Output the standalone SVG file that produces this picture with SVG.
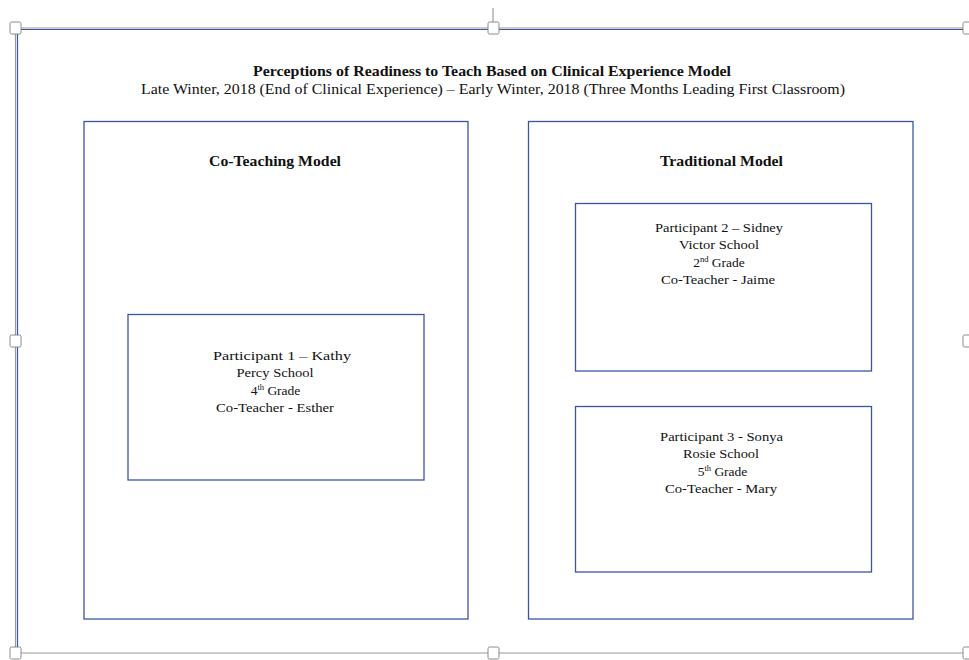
<svg xmlns="http://www.w3.org/2000/svg" width="969" height="660" viewBox="0 0 969 660">
<style>
text{font-family:"Liberation Serif","Times New Roman",serif;fill:#111;text-anchor:middle}
.t{font-size:15px;font-weight:bold}
.s{font-size:15px}
.h{font-size:15px;font-weight:bold}
.p{font-size:13.5px}
.box{fill:none;stroke:#3b55a0;stroke-width:1.3}
.sel{fill:none;stroke:#9a9a9a;stroke-width:1.2}
.hd{fill:#fff;stroke:#8a8a8a;stroke-width:1}
.sup{font-size:8.5px}
</style>
<rect width="969" height="660" fill="#fff"/>
<g id="frame">
<line class="sel" x1="493" y1="8" x2="493" y2="22"/>
<line class="sel" x1="15" y1="28" x2="969" y2="28"/>
<line x1="17" y1="29.5" x2="969" y2="29.5" stroke="#3b55a0" stroke-width="1.2"/>
<line class="sel" x1="15.5" y1="28" x2="15.5" y2="653"/>
<line x1="17.5" y1="29" x2="17.5" y2="650" stroke="#3b55a0" stroke-width="1.2"/>
<line class="sel" x1="15" y1="653" x2="969" y2="653"/>
<rect class="hd" x="10" y="22" width="11" height="12" rx="1.5"/>
<rect class="hd" x="488" y="22" width="11" height="12" rx="1.5"/>
<rect class="hd" x="963" y="22" width="11" height="12" rx="1.5"/>
<rect class="hd" x="10" y="335" width="11" height="12" rx="1.5"/>
<rect class="hd" x="963" y="335" width="11" height="12" rx="1.5"/>
<rect class="hd" x="10" y="647" width="11" height="12" rx="1.5"/>
<rect class="hd" x="488" y="647" width="11" height="12" rx="1.5"/>
<rect class="hd" x="963" y="647" width="11" height="12" rx="1.5"/>
</g>
<g id="title">
<text class="t" x="492" y="76" textLength="478" lengthAdjust="spacingAndGlyphs">Perceptions of Readiness to Teach Based on Clinical Experience Model</text>
<text class="s" x="493" y="94" textLength="704" lengthAdjust="spacingAndGlyphs">Late Winter, 2018 (End of Clinical Experience) – Early Winter, 2018 (Three Months Leading First Classroom)</text>
</g>
<g id="co-teaching-model">
<rect class="box" x="84" y="121.5" width="384" height="497.5"/>
<text class="h" x="275" y="166" textLength="132" lengthAdjust="spacingAndGlyphs">Co-Teaching Model</text>
</g>
<g id="traditional-model">
<rect class="box" x="528.5" y="121.5" width="384.5" height="497.5"/>
<text class="h" x="721.5" y="166" textLength="123" lengthAdjust="spacingAndGlyphs">Traditional Model</text>
</g>
<g id="participant-1">
<rect class="box" x="128" y="314.5" width="296" height="165.5"/>
<text class="p" x="282" y="360" textLength="138" lengthAdjust="spacingAndGlyphs">Participant 1 – Kathy</text>
<text class="p" x="275" y="377" textLength="77" lengthAdjust="spacingAndGlyphs">Percy School</text>
<text class="p" x="275.5" y="395">4<tspan class="sup" dy="-5">th</tspan><tspan dy="5"> Grade</tspan></text>
<text class="p" x="275" y="412" textLength="118" lengthAdjust="spacingAndGlyphs">Co-Teacher - Esther</text>
</g>
<g id="participant-2">
<rect class="box" x="575.5" y="203.5" width="296" height="167.5"/>
<text class="p" x="719" y="232" textLength="128" lengthAdjust="spacingAndGlyphs">Participant 2 – Sidney</text>
<text class="p" x="719" y="249" textLength="80" lengthAdjust="spacingAndGlyphs">Victor School</text>
<text class="p" x="719" y="267">2<tspan class="sup" dy="-5">nd</tspan><tspan dy="5"> Grade</tspan></text>
<text class="p" x="718" y="284" textLength="114" lengthAdjust="spacingAndGlyphs">Co-Teacher - Jaime</text>
</g>
<g id="participant-3">
<rect class="box" x="575.5" y="406.5" width="296" height="165.5"/>
<text class="p" x="721.5" y="441" textLength="123" lengthAdjust="spacingAndGlyphs">Participant 3 - Sonya</text>
<text class="p" x="721" y="458" textLength="76" lengthAdjust="spacingAndGlyphs">Rosie School</text>
<text class="p" x="722.5" y="476">5<tspan class="sup" dy="-5">th</tspan><tspan dy="5"> Grade</tspan></text>
<text class="p" x="721" y="493" textLength="112" lengthAdjust="spacingAndGlyphs">Co-Teacher - Mary</text>
</g>
<g id="connectors"></g>
</svg>
